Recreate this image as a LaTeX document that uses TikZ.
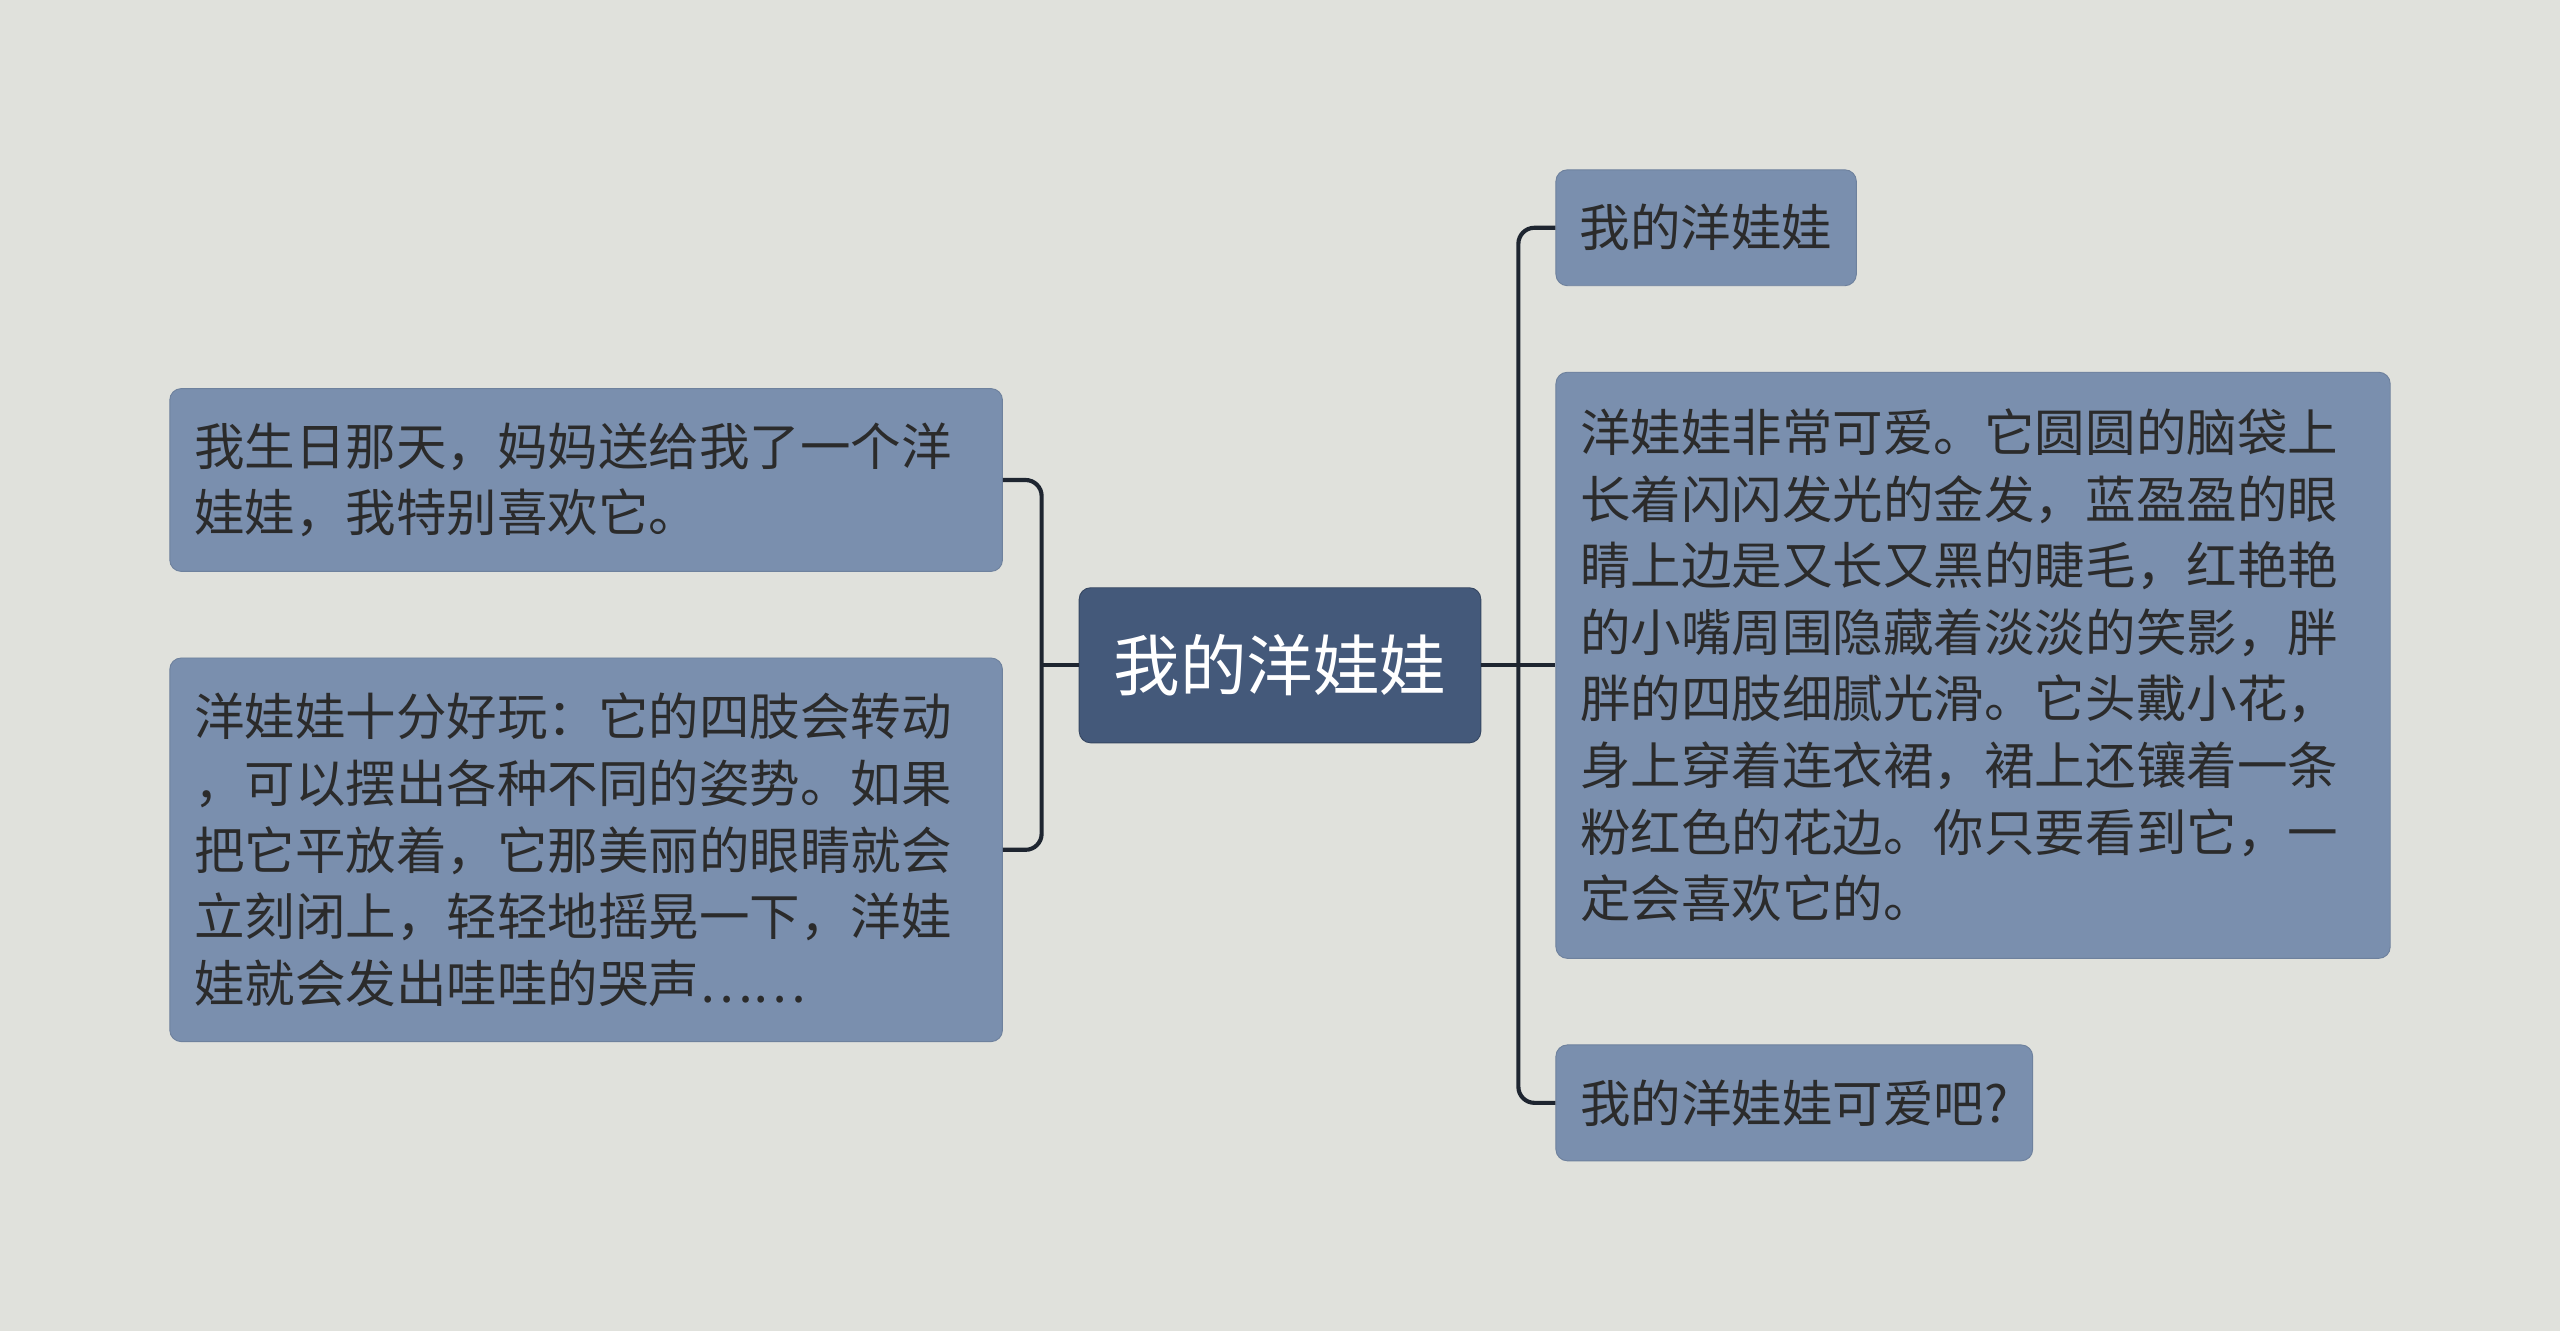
\documentclass[tikz,border=0pt]{standalone}
\usepackage{fontspec}
\setmainfont{Noto Sans CJK SC}
\usetikzlibrary{positioning}
\definecolor{bgcol}{HTML}{E0E1DC}
\definecolor{rootcol}{HTML}{44597A}
\definecolor{leafcol}{HTML}{7A8FAE}
\definecolor{linecol}{HTML}{1E2530}
\definecolor{txtcol}{HTML}{2B2B2B}
\tikzstyle{rootbox} = [rectangle, fill=rootcol, draw=rootcol!80!black, rounded corners=5pt,
  text=white, font=\fontsize{29}{35}\selectfont, inner sep=0pt]
\tikzstyle{leafbox} = [rectangle, fill=leafcol, draw=leafcol!90!black, rounded corners=5pt,
  text=txtcol, font=\fontsize{22}{29}\selectfont, align=left, inner sep=0pt]
\tikzstyle{conn} = [draw=linecol, line width=1.8pt, rounded corners=7pt]
\begin{document}
\begin{tikzpicture}[x=0.025cm,y=-0.025cm]
	\fill[bgcol] (0,0) rectangle (1568,815);
	\node [rootbox, minimum width=246*0.025cm, minimum height=95*0.025cm] at (784,407.5) (root) {我的洋娃娃};
	\node [leafbox, minimum width=510*0.025cm, minimum height=112*0.025cm, text width=480*0.025cm] at (359,294) (l1) {我生日那天，妈妈送给我了一个洋\\娃娃，我特别喜欢它。};
	\node [leafbox, minimum width=510*0.025cm, minimum height=235*0.025cm, text width=480*0.025cm] at (359,520.5) (l2) {洋娃娃十分好玩：它的四肢会转动\\，可以摆出各种不同的姿势。如果\\把它平放着，它那美丽的眼睛就会\\立刻闭上，轻轻地摇晃一下，洋娃\\娃就会发出哇哇的哭声……};
	\node [leafbox, minimum width=184*0.025cm, minimum height=71*0.025cm, text width=155*0.025cm] at (1045,139.5) (r1) {我的洋娃娃};
	\node [leafbox, minimum width=511*0.025cm, minimum height=359*0.025cm, text width=481*0.025cm] at (1208.5,407.5) (r2) {洋娃娃非常可爱。它圆圆的脑袋上\\长着闪闪发光的金发，蓝盈盈的眼\\睛上边是又长又黑的睫毛，红艳艳\\的小嘴周围隐藏着淡淡的笑影，胖\\胖的四肢细腻光滑。它头戴小花，\\身上穿着连衣裙，裙上还镶着一条\\粉红色的花边。你只要看到它，一\\定会喜欢它的。};
	\node [leafbox, minimum width=292*0.025cm, minimum height=71*0.025cm, text width=262*0.025cm] at (1099,675.5) (r3) {我的洋娃娃可爱吧?};
	\coordinate (lj) at (638,407.5);
	\coordinate (rj) at (930,407.5);
	\path [conn] (root.west) -- (lj);
	\path [conn] (l1.east) -| (lj) |- (l2.east);
	\path [conn] (root.east) -- (r2.west);
	\path [conn] (r1.west) -| (rj) |- (r3.west);
\end{tikzpicture}
\end{document}
